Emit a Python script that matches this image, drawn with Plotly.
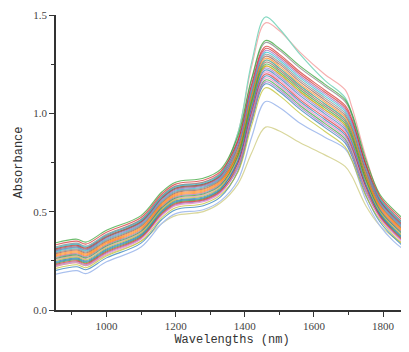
import plotly.graph_objects as go

wavelengths = [850, 915, 940, 1000, 1100, 1160, 1200, 1280, 1330, 1380, 1420,
               1460, 1500, 1560, 1630, 1690, 1710, 1750, 1790, 1830, 1880]

spec_01 = [0.20, 0.22, 0.205, 0.265, 0.34, 0.46, 0.51, 0.53, 0.575, 0.705, 0.96, 1.15, 1.11, 1.02, 0.93, 0.85, 0.78, 0.585, 0.45, 0.37, 0.29]
spec_02 = [0.21, 0.23, 0.215, 0.275, 0.35, 0.47, 0.52, 0.54, 0.585, 0.70, 0.94, 1.13, 1.09, 1.00, 0.91, 0.83, 0.76, 0.58, 0.46, 0.38, 0.30]
spec_03 = [0.22, 0.24, 0.225, 0.285, 0.36, 0.48, 0.53, 0.55, 0.595, 0.73, 0.99, 1.18, 1.14, 1.05, 0.96, 0.88, 0.81, 0.61, 0.47, 0.39, 0.31]
spec_04 = [0.225, 0.245, 0.23, 0.29, 0.365, 0.485, 0.535, 0.555, 0.60, 0.72, 0.97, 1.16, 1.12, 1.03, 0.94, 0.86, 0.79, 0.60, 0.475, 0.395, 0.315]
spec_05 = [0.23, 0.25, 0.235, 0.295, 0.37, 0.49, 0.54, 0.56, 0.605, 0.745, 1.01, 1.20, 1.16, 1.07, 0.98, 0.90, 0.83, 0.625, 0.48, 0.40, 0.32]
spec_06 = [0.235, 0.255, 0.24, 0.30, 0.375, 0.495, 0.545, 0.565, 0.61, 0.73, 0.98, 1.17, 1.13, 1.04, 0.95, 0.87, 0.80, 0.61, 0.485, 0.405, 0.325]
spec_07 = [0.24, 0.26, 0.245, 0.305, 0.38, 0.50, 0.55, 0.57, 0.615, 0.76, 1.03, 1.22, 1.18, 1.09, 1.00, 0.92, 0.85, 0.64, 0.49, 0.41, 0.33]
spec_08 = [0.245, 0.265, 0.25, 0.31, 0.385, 0.505, 0.555, 0.575, 0.62, 0.75, 1.00, 1.19, 1.15, 1.06, 0.97, 0.89, 0.82, 0.63, 0.495, 0.415, 0.335]
spec_09 = [0.25, 0.27, 0.255, 0.315, 0.39, 0.51, 0.56, 0.58, 0.625, 0.775, 1.05, 1.24, 1.20, 1.11, 1.02, 0.94, 0.87, 0.655, 0.50, 0.42, 0.34]
spec_10 = [0.255, 0.275, 0.26, 0.32, 0.395, 0.515, 0.565, 0.585, 0.63, 0.76, 1.02, 1.21, 1.17, 1.08, 0.99, 0.91, 0.84, 0.64, 0.505, 0.425, 0.345]
spec_11 = [0.26, 0.28, 0.265, 0.325, 0.40, 0.52, 0.57, 0.59, 0.635, 0.785, 1.06, 1.25, 1.21, 1.12, 1.03, 0.95, 0.88, 0.665, 0.51, 0.43, 0.35]
spec_12 = [0.265, 0.285, 0.27, 0.33, 0.405, 0.525, 0.575, 0.595, 0.64, 0.777, 1.04, 1.23, 1.19, 1.10, 1.01, 0.93, 0.86, 0.657, 0.515, 0.435, 0.355]
spec_13 = [0.27, 0.29, 0.275, 0.335, 0.41, 0.53, 0.58, 0.60, 0.645, 0.80, 1.08, 1.27, 1.23, 1.14, 1.05, 0.97, 0.90, 0.68, 0.52, 0.44, 0.36]
spec_14 = [0.275, 0.295, 0.28, 0.34, 0.415, 0.535, 0.585, 0.605, 0.65, 0.788, 1.05, 1.24, 1.20, 1.11, 1.02, 0.94, 0.87, 0.668, 0.525, 0.445, 0.365]
spec_15 = [0.28, 0.30, 0.285, 0.345, 0.42, 0.54, 0.59, 0.61, 0.655, 0.81, 1.09, 1.28, 1.24, 1.15, 1.06, 0.98, 0.91, 0.69, 0.53, 0.45, 0.37]
spec_16 = [0.285, 0.305, 0.29, 0.35, 0.425, 0.545, 0.595, 0.615, 0.66, 0.80, 1.07, 1.26, 1.22, 1.13, 1.04, 0.96, 0.89, 0.683, 0.535, 0.455, 0.375]
spec_17 = [0.29, 0.31, 0.295, 0.355, 0.43, 0.55, 0.60, 0.62, 0.665, 0.825, 1.11, 1.30, 1.26, 1.17, 1.08, 1.00, 0.93, 0.705, 0.54, 0.46, 0.38]
spec_18 = [0.295, 0.315, 0.30, 0.36, 0.435, 0.555, 0.605, 0.625, 0.67, 0.812, 1.08, 1.27, 1.23, 1.14, 1.05, 0.97, 0.90, 0.692, 0.545, 0.465, 0.385]
spec_19 = [0.30, 0.32, 0.305, 0.365, 0.44, 0.56, 0.61, 0.63, 0.675, 0.84, 1.13, 1.32, 1.28, 1.19, 1.10, 1.02, 0.95, 0.72, 0.55, 0.47, 0.39]
spec_20 = [0.305, 0.325, 0.31, 0.37, 0.445, 0.565, 0.615, 0.635, 0.68, 0.828, 1.10, 1.29, 1.25, 1.16, 1.07, 0.99, 0.92, 0.708, 0.555, 0.475, 0.395]
spec_21 = [0.31, 0.33, 0.315, 0.375, 0.45, 0.57, 0.62, 0.64, 0.685, 0.855, 1.15, 1.34, 1.30, 1.21, 1.12, 1.04, 0.97, 0.735, 0.56, 0.48, 0.40]
spec_22 = [0.315, 0.335, 0.32, 0.38, 0.455, 0.575, 0.625, 0.645, 0.69, 0.842, 1.12, 1.31, 1.27, 1.18, 1.09, 1.01, 0.94, 0.722, 0.565, 0.485, 0.405]
spec_23 = [0.32, 0.34, 0.325, 0.385, 0.46, 0.58, 0.63, 0.65, 0.695, 0.87, 1.17, 1.36, 1.32, 1.23, 1.14, 1.06, 0.99, 0.75, 0.57, 0.49, 0.41]
spec_24 = [0.33, 0.35, 0.335, 0.395, 0.47, 0.59, 0.64, 0.66, 0.705, 0.86, 1.14, 1.33, 1.29, 1.20, 1.11, 1.03, 0.96, 0.74, 0.58, 0.50, 0.42]
spec_25 = [0.34, 0.36, 0.345, 0.405, 0.48, 0.60, 0.65, 0.67, 0.715, 0.885, 1.18, 1.37, 1.33, 1.24, 1.15, 1.07, 1.00, 0.765, 0.59, 0.51, 0.43]

spec_cyan = [0.30, 0.32, 0.305, 0.37, 0.45, 0.57, 0.62, 0.64, 0.69, 0.90, 1.26, 1.49, 1.43, 1.30, 1.17, 1.08, 0.99, 0.74, 0.56, 0.47, 0.39]
spec_pink = [0.31, 0.33, 0.315, 0.38, 0.46, 0.58, 0.63, 0.65, 0.70, 0.90, 1.24, 1.46, 1.42, 1.31, 1.20, 1.12, 1.03, 0.78, 0.58, 0.49, 0.41]
spec_blue = [0.18, 0.20, 0.185, 0.245, 0.32, 0.44, 0.49, 0.51, 0.555, 0.66, 0.88, 1.06, 1.03, 0.95, 0.88, 0.82, 0.76, 0.56, 0.43, 0.35, 0.28]
spec_olive = [0.22, 0.24, 0.225, 0.28, 0.35, 0.44, 0.48, 0.50, 0.545, 0.64, 0.80, 0.93, 0.91, 0.85, 0.79, 0.73, 0.68, 0.53, 0.43, 0.37, 0.31]

main_spectra = [spec_01, spec_02, spec_03, spec_04, spec_05, spec_06, spec_07, spec_08,
                spec_09, spec_10, spec_11, spec_12, spec_13, spec_14, spec_15, spec_16,
                spec_17, spec_18, spec_19, spec_20, spec_21, spec_22, spec_23, spec_24, spec_25]

palette = ["#1f77b4", "#ff7f0e", "#2ca02c", "#d62728", "#9467bd", "#8c564b",
           "#e377c2", "#7f7f7f", "#bcbd22", "#17becf"]

x_tickvals = [1000, 1200, 1400, 1600, 1800]
y_tickvals = [0.0, 0.5, 1.0, 1.5]
y_ticktext = ["0.0", "0.5", "1.0", "1.5"]

fig = go.Figure()

outliers = [(spec_olive, "#d9d79c"), (spec_blue, "#a9c0ee"),
            (spec_pink, "#f6b0b0"), (spec_cyan, "#86d9c2")]
for ys, col in outliers:
    fig.add_trace(go.Scatter(x=wavelengths, y=ys, mode="lines",
                             line=dict(color=col, width=1.2, shape="spline"),
                             showlegend=False, hoverinfo="skip"))

order = [0, 12, 5, 20, 3, 15, 9, 22, 1, 17, 7, 13, 24, 4, 11, 19, 2, 16, 8, 21, 6, 14, 10, 23, 18]
for k, i in enumerate(order):
    fig.add_trace(go.Scatter(x=wavelengths, y=main_spectra[i], mode="lines",
                             line=dict(color=palette[k % len(palette)], width=1.1, shape="spline"),
                             opacity=0.7, showlegend=False, hoverinfo="skip"))

tick_font = dict(family="Liberation Serif", size=11, color="#444")
title_font = dict(family="Liberation Mono", size=12, color="#333")
fig.update_layout(
    width=401, height=344,
    margin=dict(l=48, r=1, t=7, b=42),
    plot_bgcolor="white", paper_bgcolor="white",
    xaxis=dict(range=[854, 1872], tickvals=x_tickvals, ticks="outside", ticklen=5,
               tickwidth=1.2, tickcolor="#333", showline=True, linecolor="#333",
               linewidth=1.5, showgrid=False, zeroline=False, tickfont=tick_font,
               minor=dict(tickvals=[900, 1100, 1300, 1500, 1700], ticks="outside",
                          ticklen=3, tickcolor="#333", showgrid=False),
               title=dict(text="Wavelengths (nm)", standoff=4, font=title_font)),
    yaxis=dict(range=[0, 1.5], tickvals=y_tickvals, ticktext=y_ticktext, ticks="outside",
               ticklen=5, tickwidth=1.2, tickcolor="#333", showline=True,
               linecolor="#333", linewidth=1.5, showgrid=False, zeroline=False,
               tickfont=tick_font,
               minor=dict(tickvals=[0.25, 0.75, 1.25], ticks="outside", ticklen=3,
                          tickcolor="#333", showgrid=False),
               title=dict(text="Absorbance", standoff=8, font=title_font)),
)

fig.write_html("out.html")
